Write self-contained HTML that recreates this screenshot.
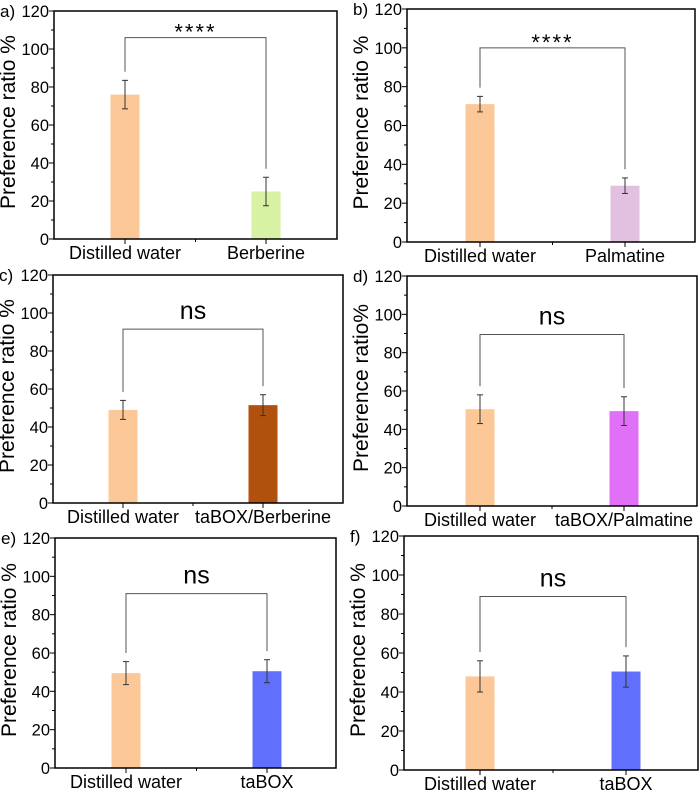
<!DOCTYPE html>
<html><head><meta charset="utf-8">
<style>
body{margin:0;background:#fff;}
svg{display:block;font-family:"Liberation Sans",sans-serif;}
</style></head>
<body>
<svg id="fig" width="700" height="793" viewBox="0 0 700 793" xmlns="http://www.w3.org/2000/svg"></svg>
<script>
// ---- data ----
const panelLetters = ["a)","b)","c)","d)","e)","f)"];
const catA = ["Distilled water","Berberine"];
const catB = ["Distilled water","Palmatine"];
const catC = ["Distilled water","taBOX/Berberine"];
const catD = ["Distilled water","taBOX/Palmatine"];
const catE = ["Distilled water","taBOX"];
const catF = ["Distilled water","taBOX"];
const valuesA = [76, 25];
const valuesB = [71, 29];
const valuesC = [49, 51.5];
const valuesD = [50.5, 49.5];
const valuesE = [49.5, 50.5];
const valuesF = [48, 50.5];
const errA = [7.5, 7.5];
const errB = [4, 4];
const errC = [5, 5.5];
const errD = [7.5, 7.5];
const errE = [6, 6];
const errF = [8, 8];
const bracketA = 106;
const bracketB = 100;
const bracketC = 91.5;
const bracketD = 89.5;
const bracketE = 91;
const bracketF = 89;
const sigLabels = ["****","****","ns","ns","ns","ns"];
const yTicks = [0,20,40,60,80,100,120];
const yTitles = ["Preference ratio %","Preference ratio %","Preference ratio %","Preference ratio%","Preference ratio %","Preference ratio %"];

// ---- layout (not data) ----
const layout = [
 {l:54,t:11,r:337,b:239,bx:[125,266],col:["#fcc897","#d6f2a2"]},
 {l:407,t:9,r:695,b:242,bx:[480,625],col:["#fcc897","#e2c0e0"]},
 {l:53,t:275,r:343,b:503,bx:[123,263],col:["#fcc897","#b0520e"]},
 {l:407,t:276,r:697,b:506,bx:[480,624],col:["#fcc897","#e070f8"]},
 {l:55,t:538,r:336,b:768,bx:[126,267],col:["#fcc897","#6070fc"]},
 {l:404,t:536,r:698,b:770,bx:[480,626],col:["#fcc897","#6070fc"]}
];
const cats=[catA,catB,catC,catD,catE,catF];
const vals=[valuesA,valuesB,valuesC,valuesD,valuesE,valuesF];
const errs=[errA,errB,errC,errD,errE,errF];
const brks=[bracketA,bracketB,bracketC,bracketD,bracketE,bracketF];

const NS="http://www.w3.org/2000/svg";
const svg=document.getElementById('fig');
function mk(tag,attrs,parent){const e=document.createElementNS(NS,tag);for(const k in attrs)e.setAttribute(k,attrs[k]);(parent||svg).appendChild(e);return e;}

layout.forEach((L,p)=>{
  const g=mk('g',{});
  
  
  const y=v=>L.b-(v/120)*(L.b-L.t);
  vals[p].forEach((v,i)=>{
    const r=mk('rect',{x:L.bx[i]-14.5,y:y(v),width:29,height:L.b-y(v),fill:L.col[i]},g);
    
    
    const e=errs[p][i];
    const eg=mk('g',{stroke:'#333','stroke-width':1},g);
    
    
    mk('line',{x1:L.bx[i],x2:L.bx[i],y1:y(v+e),y2:y(v-e)},eg);
    mk('line',{x1:L.bx[i]-3,x2:L.bx[i]+3,y1:y(v+e),y2:y(v+e)},eg);
    mk('line',{x1:L.bx[i]-3,x2:L.bx[i]+3,y1:y(v-e),y2:y(v-e)},eg);
  });
  const fr=mk('rect',{x:L.l,y:L.t,width:L.r-L.l,height:L.b-L.t,fill:'none',stroke:'#000','stroke-width':1.5},g);
  
  
  for(let v=0;v<=120;v+=10){
    const maj=v%20===0;
    mk('line',{x1:L.l,x2:L.l-(maj?5:3),y1:y(v),y2:y(v),stroke:'#000','stroke-width':1},g);
  }
  yTicks.forEach(v=>{
    const t=mk('text',{x:L.l-5,y:y(v)+6,'text-anchor':'end','font-size':16.5,fill:'#000'},g);
    t.textContent=v;
    
    
  });
  const mid=(L.bx[0]+L.bx[1])/2;
  [L.bx[0],L.bx[1]].forEach(x=>mk('line',{x1:x,x2:x,y1:L.b,y2:L.b+5,stroke:'#000','stroke-width':1},g));
  mk('line',{x1:mid,x2:mid,y1:L.b,y2:L.b+3,stroke:'#000','stroke-width':1},g);
  cats[p].forEach((c,i)=>{
    const t=mk('text',{x:L.bx[i],y:L.b+20,'text-anchor':'middle','font-size':18,fill:'#000'},g);
    t.textContent=c;
    
    
  });
  const cy=(L.t+L.b)/2-3, cx=L.l-39;
  const yt=mk('text',{x:cx,y:cy,transform:`rotate(-90 ${cx} ${cy})`,'text-anchor':'middle','font-size':21,fill:'#000'},g);
  yt.textContent=yTitles[p];
  
  
  const pl=mk('text',{x:L.l-54,y:L.t+6,'font-size':17,fill:'#000'},g);
  pl.textContent=panelLetters[p];
  
  
  const by=y(brks[p]);
  const d0=y(vals[p][0]+errs[p][0]+4.5), d1=y(vals[p][1]+errs[p][1]+4.5);
  const br=mk('path',{d:`M${L.bx[0]},${d0}V${by}H${L.bx[1]}V${d1}`,fill:'none',stroke:'#555','stroke-width':1},g);
  
  
  const isStar=sigLabels[p].indexOf('*')>=0;
  const sl=mk('text',{x:mid,y:isStar?by+2:by-10,'text-anchor':'middle','font-size':isStar?22:25,'letter-spacing':isStar?2:0,fill:'#000'},g);
  sl.textContent=sigLabels[p];
  
  
});
</script>
</body></html>
